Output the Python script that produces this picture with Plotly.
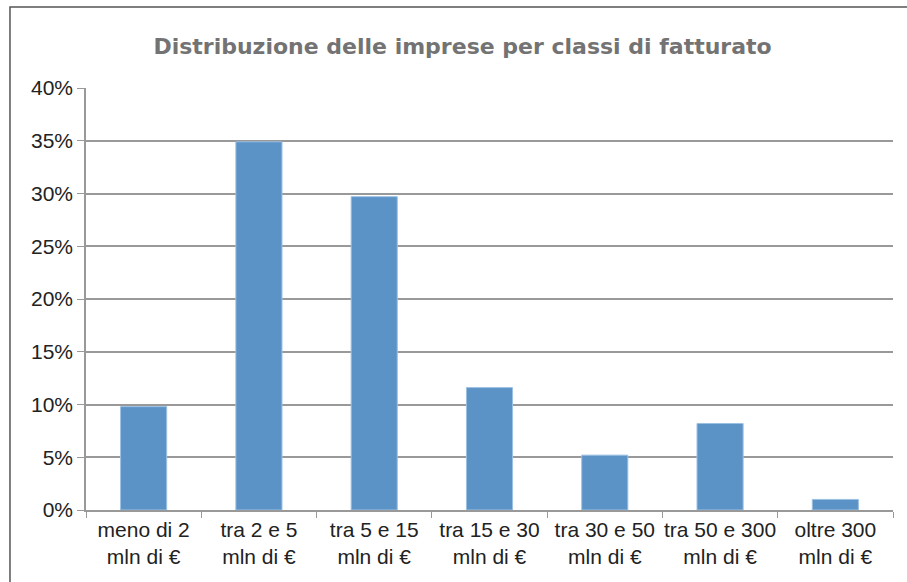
import plotly.graph_objects as go

# === Data ===
categories = [
    "meno di 2<br>mln di €",
    "tra 2 e 5<br>mln di €",
    "tra 5 e 15<br>mln di €",
    "tra 15 e 30<br>mln di €",
    "tra 30 e 50<br>mln di €",
    "tra 50 e 300<br>mln di €",
    "oltre 300<br>mln di €",
]
shares = [0.098, 0.349, 0.297, 0.116, 0.052, 0.082, 0.010]
y_ticks = [0, 0.05, 0.10, 0.15, 0.20, 0.25, 0.30, 0.35, 0.40]
y_tick_labels = ["0%", "5%", "10%", "15%", "20%", "25%", "30%", "35%", "40%"]

fig = go.Figure()

fig.add_trace(go.Bar(
    x=categories, y=shares,
    width=0.4,
    marker=dict(color="#5B93C7", line=dict(color="#9CC0E2", width=1)),
    showlegend=False
))

# === Layout ===
fig.update_layout(
    width=907, height=582,
    margin=dict(l=86, r=14, t=88, b=72, autoexpand=False),
    paper_bgcolor="white",
    plot_bgcolor="white",
    font=dict(family="Liberation Sans, Arial, sans-serif", size=20, color="#222222"),
    title=dict(
        text="<b>Distribuzione delle imprese per classi di fatturato</b>",
        x=0.51, xanchor="center", y=0.921, yanchor="middle",
        font=dict(family="DejaVu Sans, sans-serif", size=22, color="#737373")
    ),
)

# frame around the chart
fig.add_shape(
    type="rect", xref="paper", yref="paper",
    x0=-0.0942, x1=1.03, y0=-0.3, y1=1.192,
    line=dict(color="#555555", width=1.5), fillcolor="rgba(0,0,0,0)"
)

fig.update_xaxes(
    showline=True, linecolor="#999999", linewidth=1.5,
    ticks="outside", tickson="boundaries", ticklen=6, tickcolor="#999999",
    tickfont=dict(size=21), tickangle=0, automargin=False, showgrid=False
)

fig.update_yaxes(
    range=[0, 0.40],
    tickvals=y_ticks, ticktext=y_tick_labels,
    showline=True, linecolor="#999999", linewidth=1.5,
    ticks="outside", ticklen=7, tickcolor="#999999",
    showgrid=True, gridcolor="#999999", gridwidth=1.5,
    zeroline=False, automargin=False,
    tickfont=dict(size=21)
)

# page body margin off so the figure sits at the window's top-left
fig.write_html(
    "out.html",
    config={"displayModeBar": False},
    post_script="document.body.style.margin='0';",
)
